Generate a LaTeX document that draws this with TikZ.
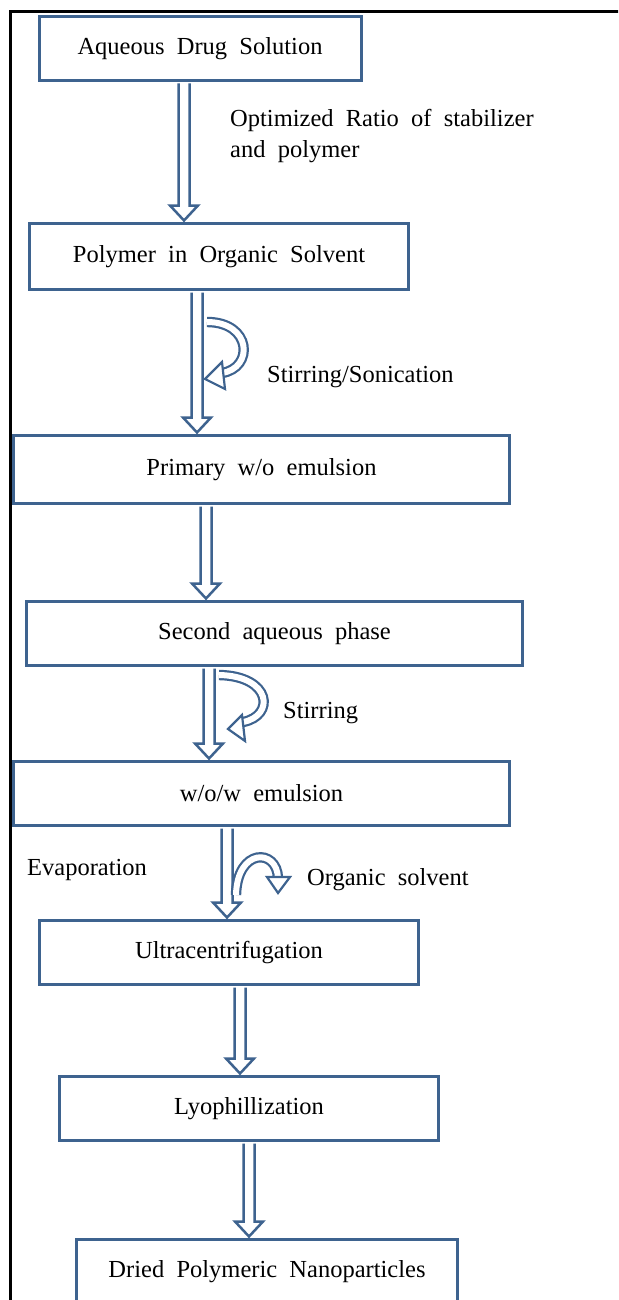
\documentclass[tikz,border=0pt]{standalone}
\usepackage{fontspec}
\setmainfont[WordSpace=2]{Liberation Serif}
\usetikzlibrary{calc}
\definecolor{flowblue}{RGB}{62,99,143}
\tikzset{
 stepbox/.style={draw=flowblue, line width=3pt, fill=white, inner sep=0pt, font=\fontsize{24.5}{30}\selectfont},
 barrow/.style={draw=flowblue, line width=2.5pt, fill=white, line join=miter},
 ribbon/.style={draw=flowblue, line width=2.2pt, double=white, double distance=6pt},
 headtri/.style={draw=flowblue, line width=2.2pt, fill=white, line join=miter},
 lbl/.style={font=\fontsize{24.5}{31}\selectfont, inner sep=0pt, anchor=west},
}
\newcommand\blockarrow[3]{%
 \draw[barrow] let \p1=(#2.south), \p2=(#3.north) in
 ({(#1-5.5)*1pt},{\y1-1.5pt}) -- ({(#1-5.5)*1pt},{\y2+16.5pt}) -- ({(#1-14)*1pt},{\y2+16.5pt}) -- ({#1*1pt},{\y2+1.5pt}) -- ({(#1+14)*1pt},{\y2+16.5pt}) -- ({(#1+5.5)*1pt},{\y2+16.5pt}) -- ({(#1+5.5)*1pt},{\y1-1.5pt});}
\begin{document}
\begin{tikzpicture}[x=1pt,y=-1pt]
\useasboundingbox (0,0) rectangle (618,1300);
\clip (0,0) rectangle (618,1300);
\fill[white] (0,0) rectangle (618,1300);
\draw[line width=3pt, black] (10,1302) -- (10,12) -- (620,12);

\node[stepbox, minimum width=322pt, minimum height=64pt] (b1) at (200,48.5) {Aqueous Drug Solution};
\node[stepbox, minimum width=379pt, minimum height=66pt] (b2) at (219,256.5) {Polymer in Organic Solvent};
\node[stepbox, minimum width=496pt, minimum height=68pt] (b3) at (261.5,469.5) {Primary w/o emulsion};
\node[stepbox, minimum width=496pt, minimum height=64pt] (b4) at (274.5,633.5) {Second aqueous phase};
\node[stepbox, minimum width=496pt, minimum height=64pt] (b5) at (261.5,793.5) {w/o/w emulsion};
\node[stepbox, minimum width=379pt, minimum height=64pt] (b6) at (229,952.5) {Ultracentrifugation};
\node[stepbox, minimum width=379pt, minimum height=64pt] (b7) at (249,1108.5) {Lyophillization};
\node[stepbox, minimum width=381pt, minimum height=65pt] (b8) at (267,1272) {Dried Polymeric Nanoparticles};

\blockarrow{184}{b1}{b2}
\blockarrow{197}{b2}{b3}
\blockarrow{206}{b3}{b4}
\blockarrow{209}{b4}{b5}
\blockarrow{227}{b5}{b6}
\blockarrow{240}{b6}{b7}
\blockarrow{249}{b7}{b8}

% stirring / sonication
\draw[ribbon] (207,322) .. controls (252,322) and (254,368) .. (222,373);
\draw[headtri] (205,379) -- (222,362) -- (225,389) -- cycle;
% stirring
\draw[ribbon] (219,675) .. controls (272,676) and (275,716) .. (243,722);
\draw[headtri] (228,729) -- (242,715) -- (245,741) -- cycle;
% organic solvent
\draw[ribbon] (236,895) .. controls (237,848) and (277,848) .. (278,878);
\draw[headtri] (278,893) -- (267,877) -- (290,877) -- cycle;

\node[lbl, align=left] (l1) at (230,136) {Optimized Ratio of stabilizer\\and polymer};
\node[lbl] (l2) at (267,377) {Stirring/Sonication};
\node[lbl] (l3) at (283,713) {Stirring};
\node[lbl] (l4) at (27,870) {Evaporation};
\node[lbl] (l5) at (307,880) {Organic solvent};
\end{tikzpicture}
\end{document}
